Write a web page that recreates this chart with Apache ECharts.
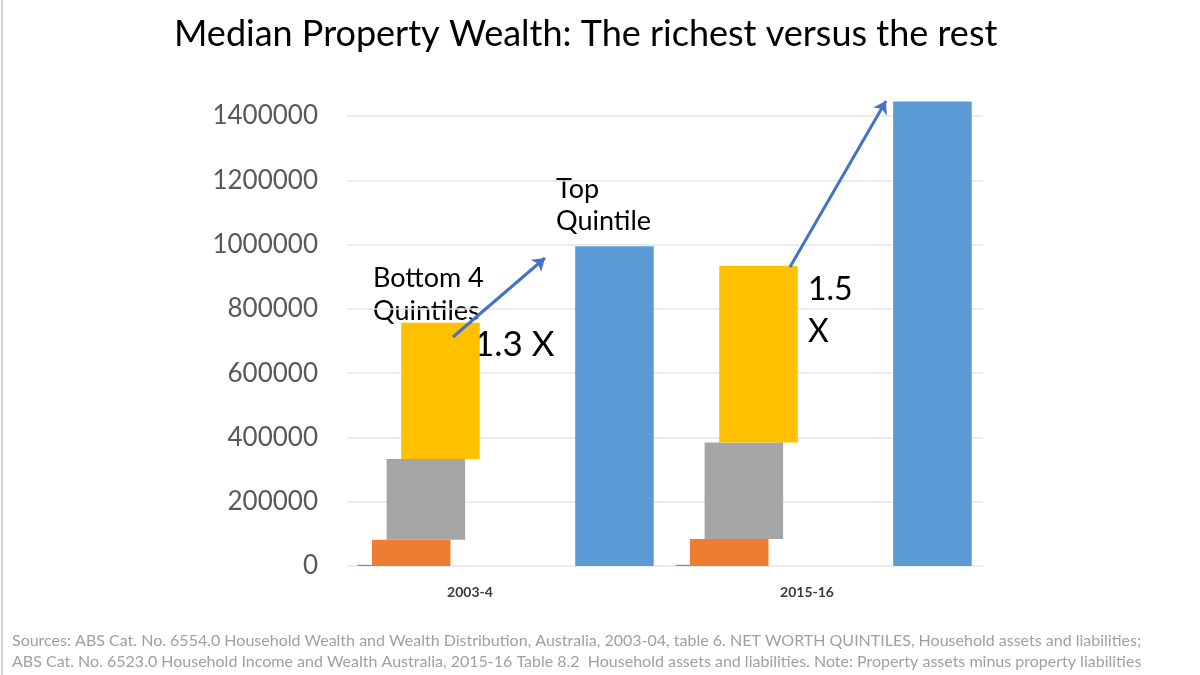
<!DOCTYPE html>
<html>
<head>
<meta charset="utf-8">
<title>Median Property Wealth</title>
<script src="https://cdn.jsdelivr.net/npm/echarts@6/dist/echarts.min.js"></script>
<style>
  html, body { margin: 0; padding: 0; background: #fff; }
  #chart { width: 1200px; height: 675px; }
</style>
</head>
<body>
<div id="chart"></div>
<script>
// categories and median property wealth by quintile
const categories = ['2003-4', '2015-16'];
const quintile1 = [4000, 4000];
const quintile2 = [82000, 84000];
const quintile3 = [333000, 384000];
const quintile4 = [757000, 934000];
const topQuintile = [995000, 1445000];

// bottom quintiles are drawn as floating bars: from previous median up to this one
function floating(lowArr, highArr) {
    return categories.map(function (c, i) {
        return [i, lowArr ? lowArr[i] : 0, highArr[i]];
    });
}

const font = 'Lato, "Open Sans", sans-serif';
const barWidthFrac = 0.247;

// offset of each bar from the category centre, as a share of the band
function makeSeries(name, color, data, offset) {
    return {
        name: name,
        type: 'custom',
        clip: false,
        encode: { x: 0, y: [1, 2] },
        data: data,
        renderItem: function (params, api) {
            let cat = api.value(0);
            let lo = api.coord([cat, api.value(1)]);
            let hi = api.coord([cat, api.value(2)]);
            let band = api.size([1, 0])[0];
            let w = band * barWidthFrac;
            let cx = lo[0] + band * offset;
            return {
                type: 'rect',
                shape: { x: cx - w / 2, y: hi[1], width: w, height: Math.max(lo[1] - hi[1], 1.2) },
                style: { fill: color }
            };
        }
    };
}

let myChart = echarts.init(document.getElementById('chart'));

let options = {
    animation: false,
    backgroundColor: '#fff',
    title: {
        text: 'Median Property Wealth: The richest versus the rest',
        left: 169,
        top: 11,
        textStyle: { fontFamily: font, fontSize: 36, fontWeight: 'normal', color: '#000' }
    },
    grid: { left: 347, right: 217, top: 116, bottom: 109, containLabel: false },
    xAxis: {
        type: 'category',
        data: categories,
        axisLine: { show: false },
        axisTick: { show: false },
        axisLabel: {
            margin: 19,
            formatter: function (v, i) { return '{c' + i + '|' + v + '}'; },
            rich: {
                c0: { fontFamily: font, fontSize: 14, fontWeight: 'bold', color: '#3a3a3a', padding: [0, 72, 0, 0] },
                c1: { fontFamily: font, fontSize: 14, fontWeight: 'bold', color: '#3a3a3a', padding: [0, 34, 0, 0] }
            }
        }
    },
    yAxis: {
        type: 'value',
        min: 0,
        max: 1400000,
        interval: 200000,
        axisLine: { show: false },
        axisTick: { show: false },
        axisLabel: {
            margin: 29, fontFamily: font, fontSize: 26, color: '#595959',
            formatter: function (v) { return String(v); }
        },
        splitLine: { lineStyle: { color: '#e6e6e6', width: 1.5 } }
    },
    series: [
        makeSeries('Quintile 1', '#5B9BD5', floating(null, quintile1), -0.343),
        makeSeries('Quintile 2', '#ED7D31', floating(null, quintile2), -0.298),
        makeSeries('Quintile 3', '#A5A5A5', floating(quintile2, quintile3), -0.252),
        makeSeries('Quintile 4', '#FFC000', floating(quintile3, quintile4), -0.206),
        makeSeries('Top Quintile', '#5B9BD5', floating(null, topQuintile), 0.341),
        {
            // arrows only
            type: 'line',
            data: [],
            silent: true,
            markLine: {
                silent: true,
                symbol: ['none', 'arrow'],
                symbolSize: 12,
                label: { show: false },
                lineStyle: { color: '#4472C4', width: 3, type: 'solid' },
                data: [
                    [{ x: 453, y: 337 }, { x: 545, y: 258 }],
                    [{ x: 790, y: 267 }, { x: 886, y: 101 }]
                ]
            }
        }
    ],
    graphic: [
        { type: 'rect', left: 1, top: 0, shape: { width: 2, height: 675 }, style: { fill: '#d0d0d0' } },
        {
            type: 'text', left: 556, top: 173,
            style: { text: 'Top\nQuintile', font: '27px ' + font, fill: '#000', lineHeight: 32 }
        },
        {
            type: 'text', left: 373, top: 262,
            style: { text: 'Bottom 4\nQuintiles', font: '27px ' + font, fill: '#000', lineHeight: 33 }
        },
        {
            type: 'text', left: 474, top: 327,
            style: { text: '1.3 X', font: '35px ' + font, fill: '#000' }
        },
        {
            type: 'text', left: 808, top: 269,
            style: { text: '1.5\nX', font: '32px ' + font, fill: '#000', lineHeight: 42 }
        },
        {
            type: 'text', left: 12, top: 630,
            style: {
                text: 'Sources: ABS Cat. No. 6554.0 Household Wealth and Wealth Distribution, Australia, 2003-04, table 6. NET WORTH QUINTILES, Household assets and liabilities;\n' +
                    'ABS Cat. No. 6523.0 Household Income and Wealth Australia, 2015-16 Table 8.2  Household assets and liabilities. Note: Property assets minus property liabilities',
                font: '16px ' + font, fill: '#a0a0a0', lineHeight: 21
            }
        }
    ]
};

myChart.setOption(options);
</script>
</body>
</html>
